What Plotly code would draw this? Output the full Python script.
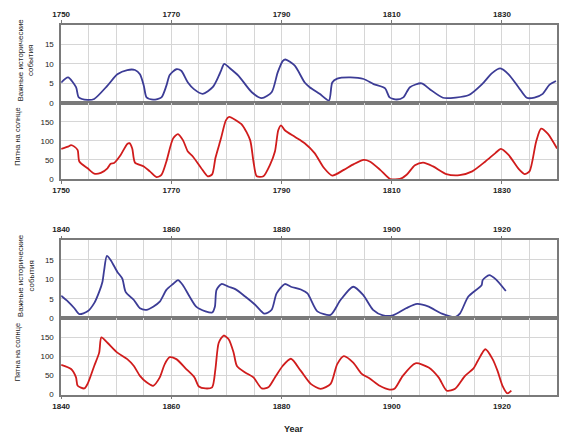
import plotly.graph_objects as go

# ---------------- data ----------------
events1_years = [1750, 1751.25, 1752.7, 1753.2, 1754.8, 1756, 1758.4, 1760.2, 1762, 1763.4,
                 1764.3, 1765, 1765.5, 1766.7, 1768.2, 1769.1, 1769.7, 1770.9, 1771.8, 1773,
                 1774.1, 1775.7, 1777.5, 1778.6, 1779, 1779.6, 1780.5, 1782.2, 1784.6, 1786.4,
                 1788.2, 1789.3, 1790.2, 1790.7, 1792.4, 1794.2, 1795.1, 1796.9, 1798.6, 1799.2,
                 1800.1, 1802.5, 1804.9, 1806.7, 1808.8, 1809.6, 1810.9, 1812.1, 1813.3, 1815.4,
                 1816.9, 1819.3, 1821.6, 1824, 1826.4, 1828.2, 1829.7, 1831.2, 1833, 1834.5,
                 1835.9, 1837.4, 1838.6, 1839.8]
events1_values = [5.2, 6.5, 4, 1.4, 0.75, 1, 4.4, 7.3, 8.4, 8.4,
                  7.3, 4.4, 1.4, 0.8, 1.4, 4.4, 7.1, 8.6, 8.2, 5.2,
                  3.5, 2.3, 4, 6.9, 8.2, 10, 9, 6.9, 2.7, 1.2,
                  2.7, 7.8, 10.7, 11.1, 9.5, 5.2, 4, 2.3, 0.6, 5.2,
                  6.2, 6.5, 6.1, 4.8, 3.7, 1.4, 0.85, 1.4, 4, 5,
                  3.5, 1.3, 1.35, 2, 4.8, 7.6, 8.8, 7.3, 4, 1.3,
                  1.35, 2.3, 4.6, 5.6]

spots1_years = [1750, 1751.25, 1751.8, 1752.4, 1753, 1753.3, 1754.8, 1756, 1757.2, 1758.4,
                1759, 1759.6, 1760.8, 1762, 1762.4, 1762.9, 1763.4, 1765, 1766.1, 1767.3,
                1768.2, 1769.1, 1770.3, 1771.2, 1772.1, 1773, 1773.9, 1775.4, 1776.6, 1777.4,
                1778, 1779, 1779.9, 1780.5, 1781.7, 1782.9, 1784.3, 1784.9, 1785.5, 1786.7,
                1787.9, 1788.8, 1789.4, 1789.9, 1790.6, 1792.4, 1794.2, 1796, 1797.7, 1799.2,
                1801.3, 1803.1, 1804.9, 1806, 1807.9, 1809.7, 1811.5, 1812.7, 1814.2, 1815.7,
                1817.5, 1819.9, 1822.3, 1824.6, 1827, 1828.8, 1829.8, 1831.2, 1833, 1834.1,
                1835, 1836.2, 1837.1, 1838.3, 1840]
spots1_values = [79, 85, 89, 85, 76, 46, 28, 14, 16, 28,
                 40, 42, 63, 92, 94, 80, 43, 33, 20, 5,
                 11, 46, 106, 118, 102, 72, 59, 29, 7, 12,
                 55, 106, 154, 163, 154, 141, 102, 46, 7, 7,
                 37, 72, 128, 141, 128, 111, 94, 68, 29, 9,
                 24, 39, 50, 46, 24, 0, 0, 11, 36, 43,
                 33, 13, 10, 20, 46, 68, 79, 63, 27, 13,
                 20, 98, 132, 119, 80]

events2_years = [1840, 1841.25, 1842.4, 1843.3, 1844.8, 1846, 1846.9, 1847.5, 1847.8, 1848.3,
                 1849, 1850.2, 1851.1, 1851.7, 1853.2, 1854.3, 1855.5, 1856.7, 1857.9, 1859.1,
                 1860.3, 1861.2, 1862.1, 1863.3, 1864.5, 1866.2, 1867.4, 1867.9, 1868.2, 1869.1,
                 1870.4, 1871.6, 1873.4, 1875.2, 1876.9, 1878.2, 1879.1, 1880.6, 1881.7, 1883.5,
                 1884.7, 1886.5, 1888.9, 1890.7, 1893, 1894.8, 1896.6, 1898.4, 1900.2, 1902.6,
                 1904.6, 1906.7, 1909.1, 1911.5, 1912.4, 1913.9, 1916.3, 1916.5, 1917.7, 1918.9,
                 1920.7]
events2_values = [5.8, 4.3, 2.6, 1.1, 1.8, 3.9, 6.8, 9.4, 12.3, 16.0,
                  14.9, 11.9, 10.2, 6.8, 4.7, 2.6, 2.2, 3.0, 4.3, 7.3,
                  8.8, 9.8, 8.5, 5.6, 3.0, 1.8, 1.5, 3.0, 7.3, 8.8,
                  8.1, 7.5, 5.6, 3.5, 1.2, 2.2, 6.4, 8.8, 8.1, 7.4,
                  6.4, 1.8, 0.9, 4.7, 8.1, 6.0, 2.2, 0.8, 0.8, 2.6,
                  3.7, 3.0, 1.2, 0.35, 1.3, 5.6, 8.5, 9.8, 11.1, 10.0,
                  7.0]

spots2_years = [1840, 1841.8, 1842.7, 1843, 1844.2, 1844.8, 1846, 1846.9, 1847.3, 1848.4,
                1850.2, 1852, 1853.2, 1854.3, 1855.5, 1856.7, 1857.9, 1858.8, 1859.7, 1860.9,
                1862.7, 1864.2, 1865, 1866.2, 1867.4, 1868, 1868.6, 1869.5, 1870.4, 1871.3,
                1871.9, 1873.4, 1874.9, 1876.4, 1877.6, 1878.8, 1880.2, 1881.7, 1883.5, 1885.3,
                1887.1, 1888.9, 1890.1, 1891.3, 1893, 1894.5, 1896, 1897.8, 1899.6, 1900.5,
                1902, 1904.3, 1906.7, 1908.5, 1910, 1911.5, 1913.3, 1914.8, 1915.6, 1917,
                1918.3, 1919.2, 1920.1, 1921, 1921.7]
spots2_values = [78, 67, 45, 23, 16, 28, 75, 110, 150, 136,
                 110, 93, 75, 49, 32, 23, 45, 80, 98, 93,
                 67, 45, 21, 16, 19, 67, 136, 155, 145, 110,
                 75, 58, 45, 16, 19, 45, 75, 94, 62, 28,
                 15, 28, 80, 101, 84, 55, 42, 23, 13, 15,
                 49, 82, 71, 45, 10, 15, 49, 68, 88, 119,
                 93, 62, 23, 3, 10]

panel_ranges = [[1750, 1840], [1840, 1930]]
events_ticks = [0, 5, 10, 15]
spots_ticks = [0, 50, 100, 150]
title_events = "Важные исторические<br>события"
title_spots = "Пятна на солнце"
x_title = "Year"

# ---------------- layout geometry ----------------
W, H = 561, 446
xd = [53 / W, 557 / W]


def ydom(top_px, bot_px):
    return [1 - bot_px / H, 1 - top_px / H]


doms = [ydom(25, 104), ydom(104, 181), ydom(243, 322), ydom(322, 399)]

BLUE = "#3c3c96"
RED = "#d01c1c"
FRAME = "#7a7a7a"
GRID = "#d6d6d6"
FONT = "Liberation Sans, Arial, sans-serif"

fig = go.Figure()
series = [(events1_years, events1_values, BLUE),
          (spots1_years, spots1_values, RED),
          (events2_years, events2_values, BLUE),
          (spots2_years, spots2_values, RED)]
for i, (xs, ys, col) in enumerate(series):
    sfx = "" if i == 0 else str(i + 1)
    fig.add_trace(go.Scatter(x=xs, y=ys, mode="lines",
                             line=dict(color=col, width=1.8, shape="spline", smoothing=0.7),
                             xaxis="x" + sfx, yaxis="y" + sfx, showlegend=False,
                             hoverinfo="skip"))

layout = dict(width=W, height=H, margin=dict(l=0, r=0, t=0, b=0),
              paper_bgcolor="white", plot_bgcolor="white",
              font=dict(family=FONT, size=8, color="#222"))

for i in range(4):
    sfx = "" if i == 0 else str(i + 1)
    rng = panel_ranges[i // 2]
    is_upper = (i % 2 == 0)
    layout["xaxis" + sfx] = dict(
        domain=xd, anchor="y" + sfx, range=rng, tick0=rng[0], dtick=20,
        side="top" if is_upper else "bottom",
        showgrid=True, gridcolor=GRID, gridwidth=1,
        minor=dict(dtick=5, showgrid=True, gridcolor=GRID, gridwidth=1),
        showline=True, linecolor=FRAME, linewidth=1.5, mirror=True,
        ticks="outside", ticklen=3, tickcolor=FRAME,
        tickfont=dict(size=8, weight=700, color="#222"),
        zeroline=False, fixedrange=True)
    layout["yaxis" + sfx] = dict(
        domain=doms[i], anchor="x" + sfx,
        range=[0, 20] if is_upper else [0, 200],
        tickvals=events_ticks if is_upper else spots_ticks,
        showgrid=True, gridcolor=GRID, gridwidth=1,
        showline=True, linecolor=FRAME, linewidth=1.5, mirror=True,
        ticks="", ticklabelstandoff=4,
        tickfont=dict(size=8, color="#222"),
        zeroline=False, fixedrange=True)

fig.update_layout(**layout)

ann = []
for p in range(2):
    du = doms[2 * p]
    dl = doms[2 * p + 1]
    ann.append(dict(text=title_events, textangle=-90, xref="paper", yref="paper",
                    x=17 / W, y=du[0] + (du[1] - du[0]) * 0.55, showarrow=False,
                    font=dict(size=8, color="#222"), xanchor="center", yanchor="middle"))
    ann.append(dict(text=title_spots, textangle=-90, xref="paper", yref="paper",
                    x=9 / W, y=(dl[0] + dl[1]) / 2 + 4 / H, showarrow=False,
                    font=dict(size=7.5, color="#222"), xanchor="center", yanchor="middle"))
ann.append(dict(text="<b>" + x_title + "</b>", xref="paper", yref="paper",
                x=290 / W, y=1 - 434 / H, showarrow=False,
                font=dict(size=9, color="#222"), xanchor="center", yanchor="middle"))
fig.update_layout(annotations=ann)

fig.write_html("out.html")
